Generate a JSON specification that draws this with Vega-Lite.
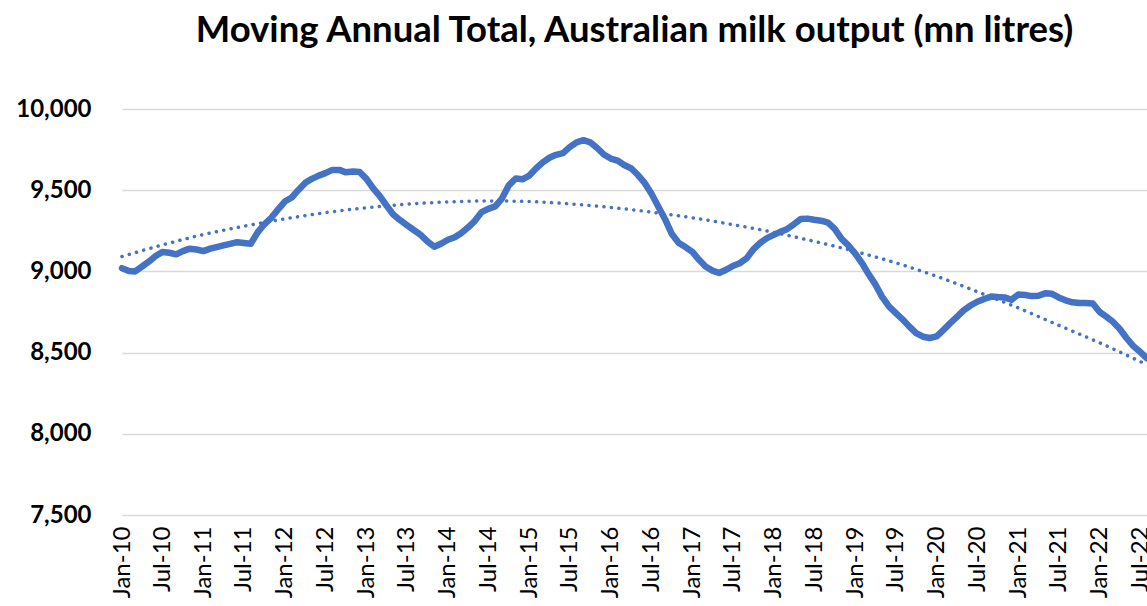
{
  "$schema": "https://vega.github.io/schema/vega-lite/v6.json",
  "autosize": {"type": "none"},
  "width": 1025,
  "height": 406,
  "padding": {"left": 122, "top": 109, "right": 0, "bottom": 91},
  "background": "white",
  "title": {
    "text": "Moving Annual Total, Australian milk output (mn litres)",
    "font": "Lato",
    "fontSize": 36.5,
    "fontWeight": "bold",
    "color": "#000000",
    "anchor": "middle",
    "offset": 48
  },
  "config": {
    "view": {"stroke": null},
    "font": "Lato"
  },
  "datasets": {
    "milk": [
      {"date": "2010-01-01", "value": 9020},
      {"date": "2010-02-01", "value": 9003},
      {"date": "2010-03-01", "value": 9000},
      {"date": "2010-04-01", "value": 9030},
      {"date": "2010-05-01", "value": 9060},
      {"date": "2010-06-01", "value": 9095},
      {"date": "2010-07-01", "value": 9120},
      {"date": "2010-08-01", "value": 9115},
      {"date": "2010-09-01", "value": 9105},
      {"date": "2010-10-01", "value": 9125},
      {"date": "2010-11-01", "value": 9140},
      {"date": "2010-12-01", "value": 9135},
      {"date": "2011-01-01", "value": 9125},
      {"date": "2011-02-01", "value": 9140},
      {"date": "2011-03-01", "value": 9150},
      {"date": "2011-04-01", "value": 9160},
      {"date": "2011-05-01", "value": 9170},
      {"date": "2011-06-01", "value": 9180},
      {"date": "2011-07-01", "value": 9175},
      {"date": "2011-08-01", "value": 9170},
      {"date": "2011-09-01", "value": 9240},
      {"date": "2011-10-01", "value": 9290},
      {"date": "2011-11-01", "value": 9330},
      {"date": "2011-12-01", "value": 9380},
      {"date": "2012-01-01", "value": 9430},
      {"date": "2012-02-01", "value": 9455},
      {"date": "2012-03-01", "value": 9500},
      {"date": "2012-04-01", "value": 9545},
      {"date": "2012-05-01", "value": 9570},
      {"date": "2012-06-01", "value": 9590},
      {"date": "2012-07-01", "value": 9605},
      {"date": "2012-08-01", "value": 9625},
      {"date": "2012-09-01", "value": 9625},
      {"date": "2012-10-01", "value": 9610},
      {"date": "2012-11-01", "value": 9615},
      {"date": "2012-12-01", "value": 9612},
      {"date": "2013-01-01", "value": 9570},
      {"date": "2013-02-01", "value": 9510},
      {"date": "2013-03-01", "value": 9465},
      {"date": "2013-04-01", "value": 9405},
      {"date": "2013-05-01", "value": 9350},
      {"date": "2013-06-01", "value": 9315},
      {"date": "2013-07-01", "value": 9285},
      {"date": "2013-08-01", "value": 9255},
      {"date": "2013-09-01", "value": 9225},
      {"date": "2013-10-01", "value": 9185},
      {"date": "2013-11-01", "value": 9152},
      {"date": "2013-12-01", "value": 9170},
      {"date": "2014-01-01", "value": 9195},
      {"date": "2014-02-01", "value": 9210},
      {"date": "2014-03-01", "value": 9235},
      {"date": "2014-04-01", "value": 9270},
      {"date": "2014-05-01", "value": 9310},
      {"date": "2014-06-01", "value": 9365},
      {"date": "2014-07-01", "value": 9385},
      {"date": "2014-08-01", "value": 9400},
      {"date": "2014-09-01", "value": 9450},
      {"date": "2014-10-01", "value": 9530},
      {"date": "2014-11-01", "value": 9572},
      {"date": "2014-12-01", "value": 9567},
      {"date": "2015-01-01", "value": 9590},
      {"date": "2015-02-01", "value": 9635},
      {"date": "2015-03-01", "value": 9670},
      {"date": "2015-04-01", "value": 9700},
      {"date": "2015-05-01", "value": 9718},
      {"date": "2015-06-01", "value": 9728},
      {"date": "2015-07-01", "value": 9765},
      {"date": "2015-08-01", "value": 9795},
      {"date": "2015-09-01", "value": 9808},
      {"date": "2015-10-01", "value": 9795},
      {"date": "2015-11-01", "value": 9760},
      {"date": "2015-12-01", "value": 9720},
      {"date": "2016-01-01", "value": 9695},
      {"date": "2016-02-01", "value": 9682},
      {"date": "2016-03-01", "value": 9655},
      {"date": "2016-04-01", "value": 9635},
      {"date": "2016-05-01", "value": 9595},
      {"date": "2016-06-01", "value": 9545},
      {"date": "2016-07-01", "value": 9480},
      {"date": "2016-08-01", "value": 9400},
      {"date": "2016-09-01", "value": 9320},
      {"date": "2016-10-01", "value": 9230},
      {"date": "2016-11-01", "value": 9175},
      {"date": "2016-12-01", "value": 9150},
      {"date": "2017-01-01", "value": 9120},
      {"date": "2017-02-01", "value": 9070},
      {"date": "2017-03-01", "value": 9030},
      {"date": "2017-04-01", "value": 9005},
      {"date": "2017-05-01", "value": 8990},
      {"date": "2017-06-01", "value": 9010},
      {"date": "2017-07-01", "value": 9033},
      {"date": "2017-08-01", "value": 9050},
      {"date": "2017-09-01", "value": 9080},
      {"date": "2017-10-01", "value": 9135},
      {"date": "2017-11-01", "value": 9175},
      {"date": "2017-12-01", "value": 9205},
      {"date": "2018-01-01", "value": 9225},
      {"date": "2018-02-01", "value": 9245},
      {"date": "2018-03-01", "value": 9260},
      {"date": "2018-04-01", "value": 9290},
      {"date": "2018-05-01", "value": 9322},
      {"date": "2018-06-01", "value": 9325},
      {"date": "2018-07-01", "value": 9318},
      {"date": "2018-08-01", "value": 9312},
      {"date": "2018-09-01", "value": 9300},
      {"date": "2018-10-01", "value": 9262},
      {"date": "2018-11-01", "value": 9200},
      {"date": "2018-12-01", "value": 9160},
      {"date": "2019-01-01", "value": 9110},
      {"date": "2019-02-01", "value": 9050},
      {"date": "2019-03-01", "value": 8985},
      {"date": "2019-04-01", "value": 8920},
      {"date": "2019-05-01", "value": 8845},
      {"date": "2019-06-01", "value": 8785},
      {"date": "2019-07-01", "value": 8745},
      {"date": "2019-08-01", "value": 8705},
      {"date": "2019-09-01", "value": 8660},
      {"date": "2019-10-01", "value": 8620},
      {"date": "2019-11-01", "value": 8598},
      {"date": "2019-12-01", "value": 8590},
      {"date": "2020-01-01", "value": 8600},
      {"date": "2020-02-01", "value": 8640},
      {"date": "2020-03-01", "value": 8680},
      {"date": "2020-04-01", "value": 8720},
      {"date": "2020-05-01", "value": 8760},
      {"date": "2020-06-01", "value": 8790},
      {"date": "2020-07-01", "value": 8813},
      {"date": "2020-08-01", "value": 8830},
      {"date": "2020-09-01", "value": 8845},
      {"date": "2020-10-01", "value": 8842},
      {"date": "2020-11-01", "value": 8840},
      {"date": "2020-12-01", "value": 8825},
      {"date": "2021-01-01", "value": 8858},
      {"date": "2021-02-01", "value": 8855},
      {"date": "2021-03-01", "value": 8848},
      {"date": "2021-04-01", "value": 8850},
      {"date": "2021-05-01", "value": 8865},
      {"date": "2021-06-01", "value": 8862},
      {"date": "2021-07-01", "value": 8840},
      {"date": "2021-08-01", "value": 8822},
      {"date": "2021-09-01", "value": 8810},
      {"date": "2021-10-01", "value": 8805},
      {"date": "2021-11-01", "value": 8805},
      {"date": "2021-12-01", "value": 8802},
      {"date": "2022-01-01", "value": 8750},
      {"date": "2022-02-01", "value": 8720},
      {"date": "2022-03-01", "value": 8690},
      {"date": "2022-04-01", "value": 8645},
      {"date": "2022-05-01", "value": 8590},
      {"date": "2022-06-01", "value": 8540},
      {"date": "2022-07-01", "value": 8505},
      {"date": "2022-08-01", "value": 8465}
    ],
    "trend": [
      {"date": "2010-01-01", "value": 9092},
      {"date": "2010-07-01", "value": 9163},
      {"date": "2011-01-01", "value": 9227},
      {"date": "2011-07-01", "value": 9278},
      {"date": "2012-01-01", "value": 9323},
      {"date": "2012-07-01", "value": 9362},
      {"date": "2013-01-01", "value": 9392},
      {"date": "2013-07-01", "value": 9414},
      {"date": "2014-01-01", "value": 9428},
      {"date": "2014-07-01", "value": 9434},
      {"date": "2015-01-01", "value": 9430},
      {"date": "2015-07-01", "value": 9416},
      {"date": "2016-01-01", "value": 9394},
      {"date": "2016-07-01", "value": 9365},
      {"date": "2017-01-01", "value": 9330},
      {"date": "2017-07-01", "value": 9288},
      {"date": "2018-01-01", "value": 9240},
      {"date": "2018-07-01", "value": 9185},
      {"date": "2019-01-01", "value": 9123},
      {"date": "2019-07-01", "value": 9053},
      {"date": "2020-01-01", "value": 8970},
      {"date": "2020-07-01", "value": 8875},
      {"date": "2021-01-01", "value": 8775},
      {"date": "2021-07-01", "value": 8668},
      {"date": "2022-01-01", "value": 8560},
      {"date": "2022-08-01", "value": 8425}
    ]
  },
  "encoding": {
    "x": {
      "field": "date",
      "type": "temporal",
      "scale": {
        "type": "utc",
        "domain": [
          {"year": 2010, "month": 1, "date": 1, "utc": true},
          {"year": 2022, "month": 8, "date": 1, "utc": true}
        ]
      },
      "axis": {
        "title": null,
        "labelExpr": "utcFormat(datum.value, '%b-%y')",
        "tickCount": {"interval": "month", "step": 6},
        "labelAngle": -90,
        "labelFont": "Lato",
        "labelFontSize": 24,
        "labelColor": "#000000",
        "labelPadding": 11,
        "labelOverlap": false,
        "labelFlush": false,
        "domain": false,
        "ticks": false,
        "grid": false
      }
    },
    "y": {
      "field": "value",
      "type": "quantitative",
      "scale": {"domain": [7500, 10000], "nice": false, "zero": false},
      "axis": {
        "title": null,
        "values": [7500, 8000, 8500, 9000, 9500, 10000],
        "format": ",.0f",
        "labelFont": "Lato",
        "labelFontSize": 24,
        "labelFontWeight": "bold",
        "labelColor": "#000000",
        "labelPadding": 31,
        "domain": false,
        "ticks": false,
        "grid": true,
        "gridColor": "#d9d9d9",
        "gridWidth": 1.5
      }
    }
  },
  "layer": [
    {
      "data": {"name": "milk", "format": {"parse": {"date": "utc:'%Y-%m-%d'"}}},
      "mark": {
        "type": "line",
        "color": "#4472C4",
        "strokeWidth": 6.5,
        "strokeCap": "round",
        "strokeJoin": "round",
        "clip": false
      }
    },
    {
      "data": {"name": "trend", "format": {"parse": {"date": "utc:'%Y-%m-%d'"}}},
      "mark": {
        "type": "line",
        "color": "#4472C4",
        "strokeWidth": 3.5,
        "strokeCap": "round",
        "interpolate": "monotone",
        "strokeDash": [0.1, 7.4]
      }
    }
  ]
}
